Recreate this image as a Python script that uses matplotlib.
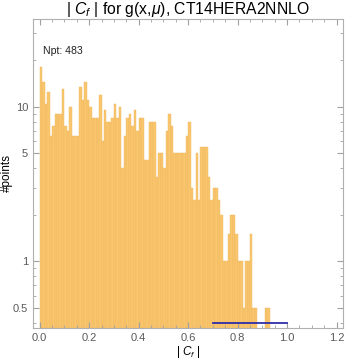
import numpy as np
import matplotlib.pyplot as plt

plt.rcParams['font.family'] = ['Liberation Sans', 'DejaVu Sans']
plt.rcParams['mathtext.fontset'] = 'custom'
plt.rcParams['mathtext.rm'] = 'Liberation Sans'
plt.rcParams['mathtext.it'] = 'Liberation Sans:italic'

# bin width 0.01, heights (log scale)
bin_width = 0.01
heights = [18, 14.5, 10.5, 12.5, 6.5, 7.5, 9, 9, 9, 13,
           7.5, 7, 10, 6.5, 6.5, 6.5, 13.5, 11, 14.5, 11,
           10, 8.5, 8.5, 8.5, 12, 6, 9.5, 8, 8, 8.5,
           10.5, 8.5, 10, 4, 6.5, 8.5, 9, 7.5, 9.5, 7,
           8.5, 8.5, 4.5, 4.5, 8, 8, 8, 3.5, 5, 5,
           4, 7, 9, 7.5, 5, 5, 5, 5, 5, 6.5,
           8, 3, 2.5, 5, 2.5, 5.5, 5.5, 5.5, 3.5, 2.5,
           3, 3, 2.5, 2, 1, 1, 1.5, 2, 2, 1.5,
           1, 1, 0.5, 1, 1, 1.5, 0.5, 0.5, 0, 0,
           0, 0.5, 0.5]
npt = 483
range_line_x = [0.7, 1.0]
range_line_y = 0.4

edges = np.arange(len(heights)) * bin_width
h = np.array(heights, dtype=float)
mask = h > 0

fig = plt.figure(figsize=(3.45, 3.6), dpi=100)
ax = fig.add_axes([33/345, 1 - 328/360, 310/345, 309/360])

ax.bar(edges[mask], h[mask], width=bin_width, align='edge', bottom=1e-3,
       color='#F9C66E', edgecolor='#EDB65E', linewidth=0.3)
ax.plot(range_line_x, [range_line_y, range_line_y], color='#2E2EA8', lw=1.3)

ax.set_yscale('log')
ax.set_xlim(-0.027, 1.226)
ax.set_ylim(0.37, 37)
ax.set_xticks([0.0, 0.2, 0.4, 0.6, 0.8, 1.0, 1.2])
ax.set_xticklabels(['0.0', '0.2', '0.4', '0.6', '0.8', '1.0', '1.2'])
ax.set_xticks(np.arange(0, 1.21, 0.05), minor=True)
ax.set_yticks([0.5, 1, 5, 10])
ax.set_yticklabels(['0.5', '1', '5', '10'])

for s in ax.spines.values():
    s.set_color('#B0B0B0')
    s.set_linewidth(0.8)
ax.tick_params(which='both', colors='#A0A0A0', labelcolor='#5A5A5A',
               labelsize=8, direction='in')
ax.tick_params(which='major', length=4)
ax.tick_params(which='minor', length=2)
ax.tick_params(top=True, right=True, which='both', labeltop=False, labelright=False)

ax.text(0.032, 0.896, 'Npt: %d' % npt, transform=ax.transAxes,
        fontsize=7.6, color='#222222', ha='left', va='center')
ax.set_title(r'| $C_f$ | for g(x,$\mu$), CT14HERA2NNLO', fontsize=11.3, pad=3)
ax.set_xlabel(r'| $C_f$ |', fontsize=8.5, labelpad=1)
ax.set_ylabel('#points', fontsize=8.5, labelpad=0)

fig.savefig('out.png', dpi=100)
